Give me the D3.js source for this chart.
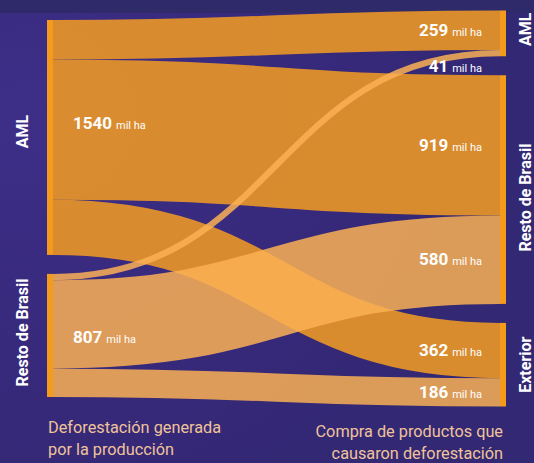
<!DOCTYPE html>
<html><head><meta charset="utf-8">
<script src="https://cdn.jsdelivr.net/npm/d3@7"></script>
<style>
html,body{margin:0;padding:0;background:#36297a;}
svg{display:block;font-family:Roboto,"Noto Sans",sans-serif;}
</style></head>
<body><svg id="c" width="534" height="463"></svg>
<script>
// ---- data ----
const sources = ["AML", "Resto de Brasil"];
const targets = ["AML", "Resto de Brasil", "Exterior"];
const flowsFromAML = [259, 919, 362];     // to AML, Resto de Brasil, Exterior
const flowsFromResto = [41, 580, 186];    // to AML, Resto de Brasil, Exterior
const unit = "mil ha";
const footLeft = ["Deforestación generada", "por la producción"];
const footRight = ["Compra de productos que", "causaron deforestación"];

// ---- layout ----
const W = 534, H = 463;
const svg = d3.select("#c");
const flows = [flowsFromAML, flowsFromResto];
const srcTotals = flows.map(f => d3.sum(f));
const tgtTotals = targets.map((t, j) => d3.sum(flows, f => f[j]));
const total = d3.sum(srcTotals);
const pad = 19, centerY = 208.5, colH = 396;
const k = d3.scaleLinear().domain([0, total]).range([0, colH - pad * (targets.length - 1)]);
const xCol = d3.scaleLinear().domain([0, 1]).range([47, 500]);
const nodeW = 6;

function stackNodes(totals) {
  const h = d3.sum(totals, v => k(v)) + pad * (totals.length - 1);
  let y = centerY - h / 2;
  return totals.map(v => { const n = {y0: y, y1: y + k(v)}; y = n.y1 + pad; return n; });
}
const sNodes = stackNodes(srcTotals);
const tNodes = stackNodes(tgtTotals);

// links
const links = [];
const sOff = sNodes.map(n => n.y0), tOff = tNodes.map(n => n.y0);
flows.forEach((f, i) => f.forEach((v, j) => {
  const w = k(v);
  links.push({s: i, t: j, v, w, ys: sOff[i] + w / 2, yt: tOff[j] + w / 2, tTop: tOff[j]});
  sOff[i] += w; tOff[j] += w;
}));

// background
const defs = svg.append("defs");
const rg = defs.append("radialGradient").attr("id", "bg").attr("cx", 0.05).attr("cy", 0.25).attr("r", 0.9);
rg.append("stop").attr("offset", 0).attr("stop-color", "#3d2e88");
rg.append("stop").attr("offset", 0.6).attr("stop-color", "#37297b");
rg.append("stop").attr("offset", 1).attr("stop-color", "#332874");
svg.append("rect").attr("width", W).attr("height", H).attr("fill", "url(#bg)");
svg.append("rect").attr("width", W).attr("height", 13).attr("fill", "#2f2a69");

const x0 = xCol(0) + nodeW, x1 = xCol(1);
const xm = d3.interpolateNumber(x0, x1)(0.5);
const linkColor = ["#f69d21", "#fab055"];
svg.append("g").selectAll("path").data(links).join("path")
  .attr("d", d => `M${x0},${d.ys}C${xm},${d.ys} ${xm},${d.yt} ${x1},${d.yt}`)
  .attr("fill", "none")
  .attr("stroke", d => linkColor[d.s])
  .attr("stroke-opacity", 0.85)
  .attr("stroke-width", d => d.w);

// node bars
const nodeColor = "#f59b1c";
svg.append("g").selectAll("rect").data(sNodes).join("rect")
  .attr("x", xCol(0)).attr("y", d => d.y0).attr("width", nodeW).attr("height", d => d.y1 - d.y0).attr("fill", nodeColor);
svg.append("g").selectAll("rect").data(tNodes).join("rect")
  .attr("x", xCol(1)).attr("y", d => d.y0).attr("width", nodeW).attr("height", d => d.y1 - d.y0).attr("fill", nodeColor);

function valueLabel(g, v) {
  g.append("tspan").attr("font-size", 17).attr("font-weight", 700).text(v);
  g.append("tspan").attr("font-size", 11).attr("dx", 4).text(unit);
}

// left value labels
const leftShift = [-14, 2];
sNodes.forEach((n, i) => {
  const t = svg.append("text").attr("x", xCol(0) + nodeW + 20)
    .attr("y", (n.y0 + n.y1) / 2 + leftShift[i]).attr("dy", "0.35em").attr("fill", "#fff");
  valueLabel(t, srcTotals[i]);
});
// right value labels (per link)
links.forEach(d => {
  const small = d.w < 15;
  const t = svg.append("text").attr("x", x1 - 18).attr("text-anchor", "end")
    .attr("y", small ? d.tTop + d.w + 4 : d.yt).attr("dy", small ? "0.71em" : "0.35em").attr("fill", "#fff");
  valueLabel(t, d.v);
});

// vertical node names
sNodes.forEach((n, i) => {
  svg.append("text").attr("transform", `translate(28,${(n.y0 + n.y1) / 2 + (i === 0 ? -6 : -3)}) rotate(-90)`)
    .attr("text-anchor", "middle").attr("font-size", 16).attr("font-weight", 700).attr("fill", "#fff").text(sources[i]);
});
tNodes.forEach((n, j) => {
  svg.append("text").attr("transform", `translate(531,${(n.y0 + n.y1) / 2 + (j === 0 ? -4 : (j === 1 ? 8 : 0))}) rotate(-90)`)
    .attr("text-anchor", "middle").attr("font-size", 16).attr("font-weight", 700).attr("fill", "#fff").text(targets[j]);
});

// footers
const footColor = "#f0c39a";
footLeft.forEach((s, i) => svg.append("text").attr("x", 48).attr("y", 433 + i * 22)
  .attr("font-size", 16.3).attr("fill", footColor).text(s));
footRight.forEach((s, i) => svg.append("text").attr("x", 503).attr("y", 437 + i * 22)
  .attr("text-anchor", "end").attr("font-size", 16.3).attr("fill", footColor).text(s));
</script>
</body></html>
